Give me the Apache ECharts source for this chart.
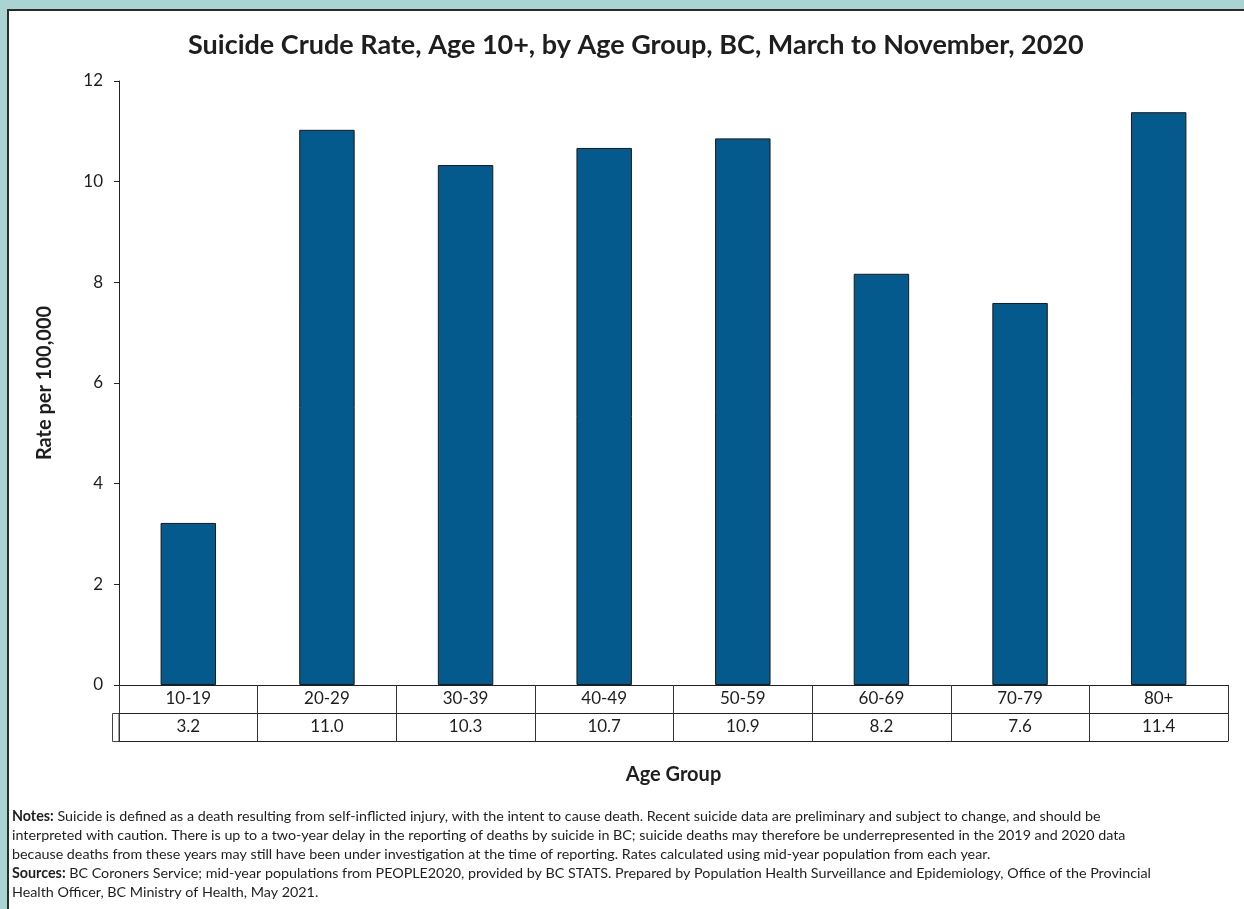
<!DOCTYPE html>
<html>
<head>
<meta charset="utf-8">
<script src="https://cdn.jsdelivr.net/npm/echarts@6/dist/echarts.min.js"></script>
<style>
html,body{margin:0;padding:0;background:#A9D4D2;}
#panel{position:absolute;left:7px;top:9px;width:1250px;height:910px;background:#fff;border-left:2px solid #2b2b2b;border-top:2px solid #2b2b2b;box-sizing:border-box;}
#chart{position:absolute;left:0;top:0;width:1244px;height:909px;}
</style>
</head>
<body>
<div id="panel"></div>
<div id="chart"></div>
<script>
var titleText = 'Suicide Crude Rate, Age 10+, by Age Group, BC, March to November, 2020';
var categories = ['10-19','20-29','30-39','40-49','50-59','60-69','70-79','80+'];
var rates = [3.22, 11.03, 10.33, 10.67, 10.86, 8.17, 7.59, 11.38];
var yTicks = [0, 2, 4, 6, 8, 10, 12];
var yAxisTitle = 'Rate per 100,000';
var xAxisTitle = 'Age Group';
var notesLines = [
  '{b|Notes:} Suicide is defined as a death resulting from self-inflicted injury, with the intent to cause death. Recent suicide data are preliminary and subject to change, and should be',
  'interpreted with caution. There is up to a two-year delay in the reporting of deaths by suicide in BC; suicide deaths may therefore be underrepresented in the 2019 and 2020 data',
  'because deaths from these years may still have been under investigation at the time of reporting. Rates calculated using mid-year population from each year.',
  '{b|Sources:} BC Coroners Service; mid-year populations from PEOPLE2020, provided by BC STATS. Prepared by Population Health Surveillance and Epidemiology, Office of the Provincial',
  'Health Officer, BC Ministry of Health, May 2021.'
];

var FONT = 'Lato';
var LABEL_SIZE = 17;
var chart = echarts.init(document.getElementById('chart'), null, {renderer: 'canvas'});
var option = {
  animation: false,
  backgroundColor: 'transparent',
  textStyle: {fontFamily: FONT, color: '#1e1e1e', fontSize: LABEL_SIZE},
  title: {
    text: titleText,
    left: 183,
    top: 27,
    textStyle: {fontFamily: FONT, fontSize: 27, fontWeight: 'bold', color: '#1e1e1e'}
  },
  grid: {left: 119, right: 16, top: 81, bottom: 224, containLabel: false},
  xAxis: [
    {
      type: 'category',
      data: categories,
      position: 'bottom',
      axisLine: {show: true, lineStyle: {color: '#222', width: 1}},
      axisTick: {show: true, length: 56, lineStyle: {color: '#333'}},
      axisLabel: {fontFamily: FONT, fontSize: LABEL_SIZE, color: '#1e1e1e', margin: 5},
      name: xAxisTitle,
      nameLocation: 'middle',
      nameGap: 80,
      nameTextStyle: {fontFamily: FONT, fontSize: 20, fontWeight: 'bold', color: '#1e1e1e'}
    },
    {
      type: 'category',
      data: categories,
      position: 'bottom',
      offset: 28,
      axisLine: {show: true, lineStyle: {color: '#222', width: 1}},
      axisTick: {show: false},
      axisLabel: {
        fontFamily: FONT, fontSize: LABEL_SIZE, color: '#1e1e1e', margin: 5,
        formatter: function (v, i) { return rates[i].toFixed(1); }
      }
    },
    {
      type: 'category',
      data: categories,
      position: 'bottom',
      offset: 56,
      axisLine: {show: true, lineStyle: {color: '#222', width: 1}},
      axisTick: {show: false},
      axisLabel: {show: false}
    }
  ],
  yAxis: {
    type: 'value',
    min: yTicks[0],
    max: yTicks[yTicks.length - 1],
    interval: 2,
    axisLine: {show: true, lineStyle: {color: '#222', width: 1}},
    axisTick: {show: true, length: 5, lineStyle: {color: '#222'}},
    splitLine: {show: false},
    axisLabel: {fontFamily: FONT, fontSize: LABEL_SIZE, color: '#1e1e1e', margin: 16},
    name: yAxisTitle,
    nameLocation: 'middle',
    nameGap: 64,
    nameTextStyle: {fontFamily: FONT, fontSize: 20, fontWeight: 'bold', color: '#1e1e1e'}
  },
  series: [{
    type: 'bar',
    data: rates,
    xAxisIndex: 0,
    barCategoryGap: '60%',
    itemStyle: {color: '#04598D', borderColor: '#1a1a1a', borderWidth: 1}
  }],
  graphic: [
    {
      type: 'rect',
      shape: {x: 112.5, y: 713.5, width: 6.5, height: 28},
      style: {fill: 'none', stroke: '#444', lineWidth: 1}
    },
    {
      type: 'text',
      left: 12,
      top: 807,
      style: {
        text: notesLines.join('\n'),
        fontFamily: FONT,
        fontSize: 14.3,
        lineHeight: 19,
        fill: '#1e1e1e',
        rich: {b: {fontFamily: FONT, fontSize: 14.3, fontWeight: 'bold', fill: '#1e1e1e', lineHeight: 19}}
      }
    }
  ]
};
chart.setOption(option);
</script>
</body>
</html>
